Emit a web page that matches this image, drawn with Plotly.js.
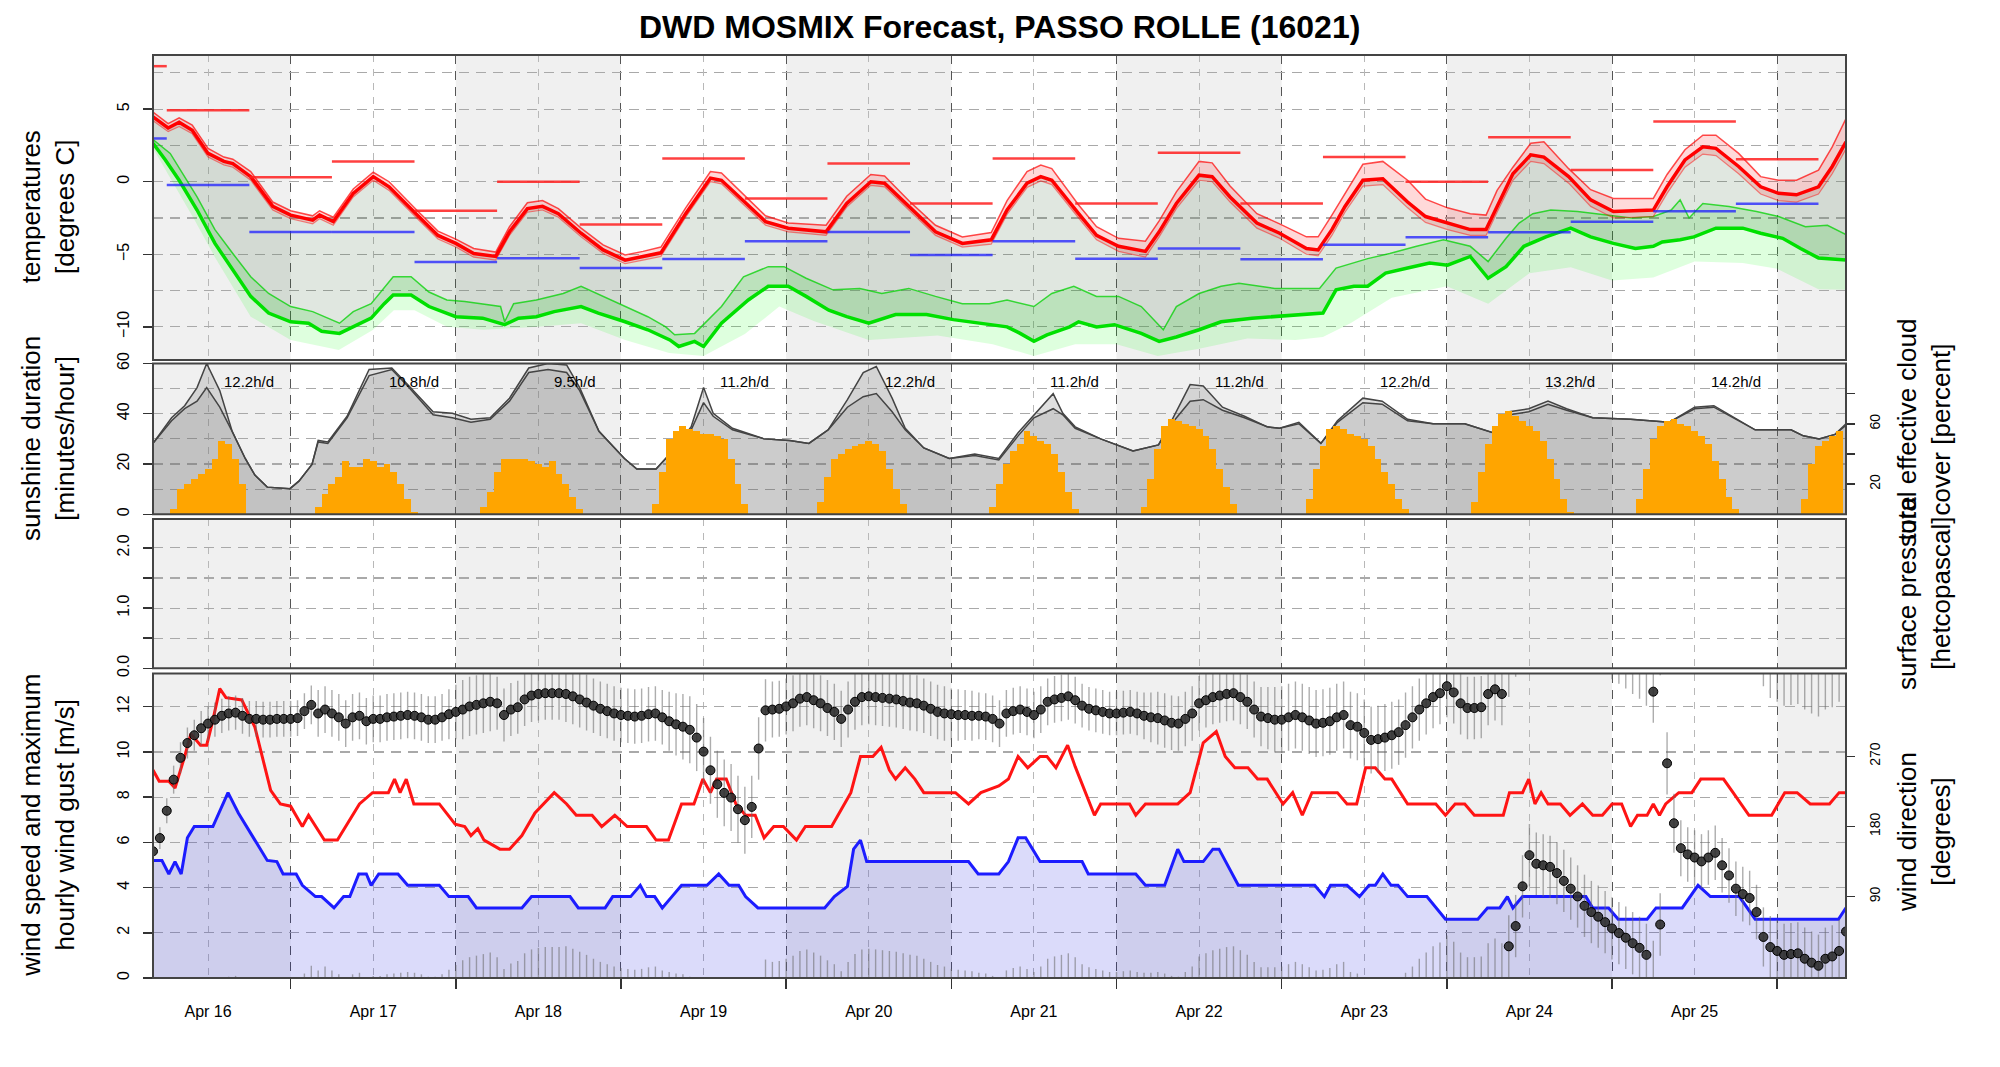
<!DOCTYPE html>
<html lang="en">
<head>
<meta charset="UTF-8">
<title>DWD MOSMIX Forecast, PASSO ROLLE</title>
<script src="https://cdn.plot.ly/plotly-3.0.1.min.js"></script>
<style>
  body { margin: 0; background: #fff; }
  #chart { width: 2000px; height: 1067px; }
</style>
</head>
<body>
<div id="chart"></div>
<script>
// all times are hours counted from Apr 16 00:00
var dayNoon = [12, 36, 60, 84, 108, 132, 156, 180, 204, 228];
var dayLabels = ['Apr 16', 'Apr 17', 'Apr 18', 'Apr 19', 'Apr 20', 'Apr 21', 'Apr 22', 'Apr 23', 'Apr 24', 'Apr 25'];
var sunPerDay = ['12.2h/d', '10.8h/d', '9.5h/d', '11.2h/d', '12.2h/d', '11.2h/d', '11.2h/d', '12.2h/d', '13.2h/d', '14.2h/d'];
var shadeDays = [0, 48, 96, 144, 192, 240];

// temperature (2m) with spread
var tempT = [4, 6.2, 7.8, 9.7, 12, 14.3, 15.6, 18.2, 21.4, 24, 27.2, 28.2, 30.2, 33.1, 36, 38.3, 42.2, 45.4, 48, 50.6,
  53.8, 55.8, 58.4, 60.6, 62.9, 66.2, 69.4, 72.6, 75.2, 77.8, 81.4, 85, 86.6, 89.2, 93, 96.3, 99.6, 101.8, 104.8, 108.3,
  110.3, 113.8, 117.7, 121.6, 125.8, 128.1, 131, 133, 134.6, 138.5, 141.1, 144.3, 148.2, 150.2, 152.7, 156, 157.9, 160.5, 164.4, 167.7,
  171.6, 173.3, 175.3, 177.2, 179.8, 182.7, 186.3, 188.9, 192.1, 195.4, 197.7, 199.3, 201.6, 204.2, 206.1, 209.7, 212.9, 216.2, 222, 224,
  226.6, 229.2, 231.1, 234.4, 237.6, 240.2, 242.8, 246, 248, 250];
var tempMean = [4.47, 3.7, 4.1, 3.55, 1.95, 1.4, 1.25, 0.35, -1.7, -2.3, -2.65, -2.3, -2.75, -0.8, 0.35, -0.35, -2.2, -3.7, -4.25, -4.95,
  -5.15, -3.45, -1.85, -1.7, -2.2, -3.55, -4.7, -5.4, -5.15, -4.9, -2.2, 0.25, 0.1, -1.05, -2.75, -3.2, -3.35, -3.45, -1.5, 0,
  -0.1, -1.7, -3.45, -4.25, -4, -1.95, -0.1, 0.35, 0.1, -2.2, -3.7, -4.45, -4.8, -3.45, -1.5, 0.45, 0.35, -1.05, -2.85, -3.55,
  -4.6, -4.7, -3.3, -1.7, 0.1, 0.2, -1.4, -2.4, -2.85, -3.3, -3.3, -1.7, 0.55, 1.85, 1.7, 0.35, -1.25, -2.05, -1.95, -0.35,
  1.5, 2.4, 2.3, 1.05, -0.35, -0.8, -0.9, -0.35, 1.05, 2.75];
var tempHi = [4.8, 4.0, 4.4, 3.9, 2.3, 1.7, 1.55, 0.7, -1.4, -2.0, -2.35, -2.0, -2.45, -0.5, 0.65, 0.0, -1.9, -3.4, -3.95, -4.6,
  -4.85, -3.1, -1.45, -1.3, -1.85, -3.2, -4.35, -5.05, -4.8, -4.5, -1.8, 0.7, 0.6, -0.6, -2.35, -2.85, -2.95, -3.0, -1.0, 0.5,
  0.4, -1.3, -3.0, -3.8, -3.5, -1.3, 0.7, 1.15, 0.9, -1.6, -3.1, -3.9, -4.1, -2.7, -0.7, 1.4, 1.3, -0.3, -2.2, -2.9,
  -3.8, -3.8, -2.3, -0.8, 1.2, 1.4, 0.1, -1.2, -1.8, -2.2, -2.3, -0.6, 1.0, 2.65, 2.75, 0.9, -0.55, -1.15, -1.15, 0.5,
  2.2, 3.2, 3.2, 1.95, 0.35, 0.1, 0.1, 0.8, 2.4, 4.35];
var tempLo = [4.2, 3.45, 3.8, 3.3, 1.7, 1.15, 1.0, 0.1, -1.95, -2.55, -2.9, -2.55, -3.0, -1.05, 0.1, -0.6, -2.45, -3.95, -4.5, -5.2,
  -5.4, -3.7, -2.1, -1.95, -2.45, -3.8, -4.95, -5.65, -5.4, -5.15, -2.45, 0.0, -0.15, -1.3, -3.0, -3.45, -3.6, -3.7, -1.75, -0.25,
  -0.35, -1.95, -3.7, -4.5, -4.3, -2.25, -0.4, 0.05, -0.2, -2.5, -4.0, -4.8, -5.2, -3.8, -1.85, 0.1, 0.0, -1.4, -3.2, -3.9,
  -5.0, -5.1, -3.7, -2.1, -0.3, -0.2, -1.8, -2.8, -3.3, -3.7, -3.7, -2.1, 0.1, 1.4, 1.25, -0.1, -1.7, -2.5, -2.4, -0.8,
  1.0, 1.9, 1.8, 0.55, -0.85, -1.3, -1.4, -0.85, 0.55, 2.25];

// dew point with spread
var dewT = [4, 5.8, 7.8, 10.4, 13, 15.6, 18.2, 20.8, 24, 26.6, 28.5, 31.1, 33.7, 35.7, 37.6, 38.9, 41.5, 44.1, 48, 51.9,
  55.1, 57.1, 59.7, 62.3, 66.2, 68.7, 72.6, 75.9, 79.1, 80.4, 82.7, 84, 86.6, 90.5, 93.4, 96.3, 98.9, 102.2, 104.8, 108,
  111.9, 116.4, 120.3, 125.5, 128.1, 130, 132, 133.9, 137.2, 138.5, 141.1, 143.7, 147.6, 150.2, 152.7, 156, 159.2, 163.7, 167, 170.3,
  174, 175.9, 178.5, 180.5, 183.1, 186.3, 189.5, 192.1, 195.4, 198, 200.6, 203.2, 206.4, 210, 212.9, 216.2, 219.4, 222, 223.3, 225.9,
  227.9, 231.1, 235, 237.6, 240.8, 243.4, 246, 250];
var dewMean = [2.65, 1.5, 0.1, -1.95, -4.25, -6.1, -7.9, -9.05, -9.65, -9.75, -10.3, -10.45, -9.85, -9.4, -8.4, -7.8, -7.8, -8.6, -9.3, -9.4,
  -9.85, -9.4, -9.3, -8.95, -8.6, -9.05, -9.65, -10.2, -10.9, -11.35, -11.0, -11.35, -9.75, -8.15, -7.2, -7.2, -7.9, -8.85, -9.3, -9.75,
  -9.15, -9.15, -9.5, -9.85, -10.0, -10.45, -11.0, -10.55, -10.0, -9.65, -10.0, -9.85, -10.45, -11.0, -10.7, -10.2, -9.65, -9.4, -9.3, -9.15,
  -9.05, -7.45, -7.2, -7.2, -6.3, -5.95, -5.6, -5.75, -5.15, -6.65, -5.85, -4.45, -3.8, -3.2, -3.8, -4.25, -4.6, -4.45, -4.15, -4.0,
  -3.8, -3.2, -3.2, -3.55, -3.9, -4.6, -5.25, -5.4];
var dewHiT = [4, 6.5, 10.4, 13, 15.6, 18.2, 20.8, 24, 27.2, 31.1, 33.1, 35.7, 38.9, 41.5, 44.1, 46.7, 49.3, 51.9, 54.5, 55.1,
  56.4, 59.7, 63.6, 66.2, 69.4, 72.6, 75.9, 78.5, 79.8, 82.7, 86.6, 89.8, 93.4, 95.7, 98.9, 102.8, 106.7, 109.9, 113.8, 117.7,
  121.6, 125.5, 128.1, 132, 134.6, 137.8, 141.1, 144.3, 147.6, 150.8, 152.7, 156, 159.2, 161.8, 167, 173.5, 175.9, 180.5, 183.7, 187.6,
  191.5, 195.4, 198, 200.6, 202.5, 204.5, 207.1, 211, 214.9, 218.8, 222, 224.6, 225.9, 227.2, 229.2, 233, 237, 240.2, 244.1, 247.3, 250];
var dewHi = [2.9, 1.95, -1.05, -3.3, -4.95, -6.55, -7.7, -8.6, -8.95, -9.75, -8.95, -8.4, -6.55, -6.55, -7.6, -8.15, -8.25, -8.4, -8.6, -9.65,
  -8.4, -8.15, -7.7, -7.2, -7.9, -8.6, -9.3, -10.0, -10.55, -10.45, -8.6, -6.55, -5.85, -5.85, -6.65, -7.45, -7.35, -7.7, -7.35, -7.9,
  -8.4, -8.4, -8.15, -8.6, -7.7, -7.2, -7.9, -7.9, -8.6, -10.2, -8.6, -7.7, -7.2, -7.0, -7.35, -7.35, -5.95, -5.3, -4.95, -4.45,
  -4.0, -4.45, -5.5, -3.9, -2.85, -2.2, -1.95, -2.05, -2.3, -2.5, -2.4, -1.95, -1.25, -2.5, -1.5, -1.7, -2.05, -2.4, -3.1, -3.0, -3.65];
var dewLoT = [4, 10, 13, 18.2, 24, 31, 36, 39, 42, 46.7, 52, 60, 66.2, 72.6, 79, 84, 90, 95, 100, 108,
  118, 126, 132, 138, 144, 150, 156, 163, 170, 174, 178, 184, 192, 198, 204, 210, 216, 222, 228, 235,
  240, 246, 250];
var dewLo = [2.3, -2.6, -5.2, -9.3, -10.9, -11.6, -10.2, -8.85, -8.85, -10.0, -10.2, -10.0, -9.75, -10.9, -11.8, -12.0, -10.5, -8.6, -9.6, -10.9,
  -10.6, -11.2, -12.0, -11.2, -11.2, -12.0, -11.5, -10.8, -10.9, -10.7, -9.75, -8.0, -7.2, -8.4, -6.3, -5.9, -6.8, -6.6, -5.5, -5.6,
  -6.0, -7.4, -7.45];

// 12-hourly extremes
var segStart = [4, 6, 18, 30, 42, 54, 66, 78, 90, 102, 114, 126, 138, 150, 162, 174, 186, 198, 210, 222, 234];
var segEnd = [6, 18, 30, 42, 54, 66, 78, 90, 102, 114, 126, 138, 150, 162, 174, 186, 198, 210, 222, 234, 246];
var tMax = [7.96, 4.93, 0.3, 1.4, -2.0, 0.0, -2.95, 1.6, -1.15, 1.25, -1.5, 1.6, -1.5, 2.0, -1.5, 1.7, 0.0, 3.07, 0.8, 4.15, 1.55];
var tMin = [2.98, -0.23, -3.46, -3.46, -5.53, -5.28, -5.94, -5.32, -4.1, -3.46, -5.05, -4.1, -5.3, -4.6, -5.35, -4.35, -3.83, -3.49, -2.75, -2.04, -1.51];

// sunshine minutes per hour
var sunH = [7, 8, 9, 10, 11, 12, 13, 14, 15, 16, 17,
  28, 29, 30, 31, 32, 33, 34, 35, 36, 37, 38, 39, 40, 41, 42,
  52, 53, 54, 55, 56, 57, 58, 59, 60, 61, 62, 63, 64, 65, 66,
  77, 78, 79, 80, 81, 82, 83, 84, 85, 86, 87, 88, 89, 90,
  101, 102, 103, 104, 105, 106, 107, 108, 109, 110, 111, 112, 113,
  126, 127, 128, 129, 130, 131, 132, 133, 134, 135, 136, 137, 138,
  148, 149, 150, 151, 152, 153, 154, 155, 156, 157, 158, 159, 160, 161,
  172, 173, 174, 175, 176, 177, 178, 179, 180, 181, 182, 183, 184, 185, 186,
  196, 197, 198, 199, 200, 201, 202, 203, 204, 205, 206, 207, 208, 209, 210,
  220, 221, 222, 223, 224, 225, 226, 227, 228, 229, 230, 231, 232, 233, 234,
  244, 245, 246, 247, 248, 249];
var sunV = [2, 10, 12, 14, 16, 18, 22, 29, 28, 22, 12,
  3, 8, 12, 15, 21, 19, 19, 22, 21, 19, 20, 17, 12, 6, 1,
  3, 9, 17, 22, 22, 22, 22, 21, 20, 19, 21, 16, 12, 7, 2,
  4, 17, 30, 33, 35, 34, 33, 32, 32, 31, 30, 22, 12, 4,
  5, 15, 22, 24, 26, 27, 28, 29, 28, 25, 18, 10, 4,
  3, 12, 20, 25, 28, 33, 31, 29, 28, 24, 17, 9, 2,
  3, 14, 26, 35, 38, 37, 36, 35, 34, 31, 26, 18, 11, 4,
  6, 18, 27, 34, 35, 34, 32, 31, 30, 27, 22, 17, 12, 6, 2,
  5, 17, 28, 35, 40, 41, 39, 37, 35, 33, 29, 22, 14, 6, 1,
  6, 18, 30, 35, 37, 38, 36, 35, 33, 31, 28, 21, 14, 7, 2,
  6, 20, 27, 29, 31, 33];

// total effective cloud cover (percent)
var cloudT = [4, 6.7, 8.6, 10.4, 11.8, 13.7, 15.5, 17.4, 18.8, 20.6, 23.9, 25.2, 27.1, 28, 29.4, 32.2, 35.4, 38.7, 41, 44.7,
  47.5, 50.2, 53, 55.8, 58.6, 61.4, 64.1, 66, 68.8, 72.5, 74.3, 77.1, 79.9, 82.2, 84, 85.4, 88.2, 92.8, 96.5, 99.3,
  102.1, 104.9, 107.2, 109.1, 111.4, 113.3, 116, 119.7, 123.4, 126.9, 129.7, 132, 134.8, 136.2, 138, 141.7, 146.4, 150.1, 152, 154.7,
  156.6, 159.4, 162.6, 165.9, 167.7, 170.5, 173.7, 176.1, 179.8, 182.6, 186.3, 190, 194.6, 198.8, 201.1, 203.9, 206.7, 209.4, 213.2, 218.7,
  224.3, 228, 230.8, 236.8, 242, 243.8, 246.1, 248.4, 250];
var cloudHi = [47, 64, 72, 84, 100, 82, 55, 37, 26, 18, 17, 22, 33, 49, 48, 65, 96, 97, 86, 68,
  67, 63, 64, 77, 97, 100, 99, 84, 55, 37, 30, 30, 44, 58, 84, 67, 57, 50, 49, 47,
  56, 76, 94, 98, 77, 57, 44, 37, 40, 37, 54, 66, 80, 67, 58, 50, 42, 46, 62, 86,
  85, 71, 65, 58, 57, 61, 47, 62, 77, 75, 63, 60, 60, 54, 68, 70, 75, 70, 64, 63,
  61, 71, 72, 56, 56, 52, 50, 53, 60];
var cloudLo = [47, 62, 70, 75, 84, 71, 55, 37, 26, 18, 17, 22, 33, 48, 47, 64, 92, 96, 85, 66,
  64, 61, 63, 75, 94, 96, 94, 82, 55, 37, 30, 30, 44, 56, 74, 65, 56, 50, 49, 47,
  56, 71, 78, 80, 68, 56, 44, 37, 39, 36, 52, 64, 70, 66, 57, 50, 42, 46, 60, 75,
  76, 69, 64, 58, 57, 60, 47, 61, 74, 73, 62, 60, 60, 54, 66, 68, 73, 69, 64, 63,
  61, 70, 71, 56, 56, 52, 50, 53, 59];

// wind speed and gusts (m/s)
var windT = [4, 5.3, 6.3, 7.2, 8.1, 9, 10, 12.7, 14.9, 16.4, 18.8, 20.6, 22, 22.9, 24.8, 25.7, 27.6, 28.5, 30.3, 31.7,
  32.6, 33.9, 35, 35.7, 36.8, 39.6, 41, 45.6, 47, 49.8, 51, 57.6, 59, 64.6, 65.8, 69.7, 70.8, 73.4, 74.8, 75.7,
  76.9, 78, 79.4, 80.8, 84.5, 86.2, 87.7, 89.1, 90.1, 91.9, 101.6, 103, 104.9, 105.8, 106.8, 107.7, 122.5, 123.9, 126.9, 128.3,
  129.7, 130.8, 132.9, 139, 139.9, 146.8, 148.2, 151, 152.9, 153.8, 156.6, 158, 158.9, 161.7, 172.8, 174.2, 175.1, 177.5, 179.3, 180.7,
  181.6, 182.7, 183.9, 184.9, 186.3, 189.1, 191.8, 196.5, 197.9, 199.7, 200.8, 201.6, 203, 212.2, 213.2, 215.5, 216.9, 221.1, 222.4, 226.2,
  228.5, 230.3, 234.5, 236.8, 248.9, 250];
var windV = [5.2, 5.2, 4.6, 5.15, 4.6, 6.2, 6.7, 6.7, 8.2, 7.3, 6.1, 5.2, 5.15, 4.6, 4.6, 4.1, 3.6, 3.6, 3.1, 3.6,
  3.6, 4.6, 4.6, 4.1, 4.6, 4.6, 4.1, 4.1, 3.6, 3.6, 3.1, 3.1, 3.6, 3.6, 3.1, 3.1, 3.6, 3.6, 4.1, 3.6,
  3.6, 3.1, 3.6, 4.1, 4.1, 4.6, 4.1, 4.1, 3.6, 3.1, 3.1, 3.6, 4.05, 5.7, 6.1, 5.15, 5.15, 4.6, 4.6, 5.15,
  6.2, 6.2, 5.15, 5.15, 4.6, 4.6, 4.1, 4.1, 5.7, 5.15, 5.15, 5.7, 5.7, 4.1, 4.1, 3.6, 4.1, 4.1, 3.6, 4.1,
  4.1, 4.6, 4.1, 4.1, 3.6, 3.6, 2.6, 2.6, 3.1, 3.1, 3.6, 3.1, 3.6, 3.6, 3.1, 3.1, 2.6, 2.6, 3.1, 3.1,
  4.1, 3.6, 3.6, 2.6, 2.6, 3.1];
var gustT = [4, 4.9, 6.3, 7.2, 8.6, 9.5, 10.9, 11.8, 12.7, 13.7, 14.6, 16.9, 18.8, 21.1, 22.5, 24, 25.7, 26.6, 28.9, 30.8,
  34, 35.9, 38.2, 39.1, 39.9, 40.8, 41.9, 45.6, 47.9, 49.3, 50.2, 51.2, 52.1, 54.4, 55.8, 57.6, 59.5, 62.3, 64.1, 65.5,
  67.8, 69.2, 71.1, 72.9, 75.7, 77.1, 78.9, 80.8, 82.6, 83.9, 85, 85.9, 87.3, 88.7, 90.1, 91.5, 92.8, 94.2, 95.6, 97.5,
  98.8, 102.6, 105.4, 106.8, 108.6, 109.8, 111, 111.9, 113.3, 114.7, 116, 120.6, 122.5, 124.3, 126.9, 128.3, 129.7, 131.1, 132.9, 133.9,
  135.2, 136.9, 138, 140.8, 141.7, 145.9, 146.8, 148.2, 152.9, 154.7, 156.6, 158.5, 159.8, 161.2, 163.1, 164.5, 165.9, 168.2, 169.6, 171,
  172.4, 176.1, 177.5, 178.9, 180.2, 181.6, 183, 184, 186.3, 190.4, 191.8, 193.2, 194.6, 196, 200.2, 201.1, 203, 203.9, 204.8, 205.7,
  206.7, 208.5, 209.9, 211.7, 213.2, 214.6, 216, 217.4, 218.7, 219.7, 221.1, 222, 222.9, 223.8, 225.7, 227.6, 228.9, 232.2, 233.6, 235.9,
  239.2, 241.1, 242.9, 244.8, 247.6, 249, 250];
var gustV = [9.2, 8.7, 8.7, 8.4, 9.8, 10.8, 10.3, 10.3, 11.4, 12.8, 12.4, 12.3, 11.1, 8.3, 7.7, 7.6, 6.7, 7.2, 6.1, 6.1,
  7.7, 8.2, 8.2, 8.8, 8.2, 8.8, 7.7, 7.7, 6.8, 6.7, 6.3, 6.6, 6.1, 5.7, 5.7, 6.3, 7.3, 8.2, 7.7, 7.2,
  7.2, 6.7, 7.2, 6.7, 6.7, 6.1, 6.1, 7.7, 7.7, 8.8, 8.2, 8.8, 8.8, 7.7, 7.2, 7.2, 6.2, 6.7, 6.7, 6.1,
  6.7, 6.7, 8.2, 9.8, 9.8, 10.2, 9.2, 8.8, 9.3, 8.8, 8.2, 8.2, 7.7, 8.2, 8.5, 8.8, 9.8, 9.3, 9.8, 9.8,
  9.3, 10.3, 9.35, 7.2, 7.7, 7.7, 7.2, 7.7, 7.7, 8.2, 10.4, 10.9, 9.8, 9.3, 9.3, 8.8, 8.8, 7.7, 8.2, 7.2,
  8.2, 8.2, 7.7, 7.7, 9.3, 9.3, 8.8, 8.8, 7.7, 7.7, 7.2, 7.7, 7.7, 7.2, 7.2, 8.2, 8.2, 8.8, 7.7, 8.2,
  7.7, 7.7, 7.2, 7.7, 7.2, 7.2, 7.7, 7.7, 6.7, 7.2, 7.2, 7.7, 7.2, 7.7, 8.2, 8.2, 8.8, 8.8, 8.2, 7.2,
  7.2, 8.2, 8.2, 7.7, 7.7, 8.2, 8.2];

// hourly wind direction (degrees) and its spread, starting at hour 4
var dirStart = 4;
var windDir = [148, 165, 200, 240, 268, 287, 297, 306, 312, 317,
  322, 325, 326, 322, 318, 318, 317, 317, 318, 318,
  318, 319, 328, 336, 325, 330, 325, 320, 312, 320,
  322, 315, 318, 318, 320, 321, 322, 323, 322, 320,
  317, 317, 320, 324, 327, 330, 334, 336, 338, 340,
  338, 323, 330, 333, 343, 348, 350, 351, 351, 351,
  350, 347, 343, 339, 335, 331, 328, 325, 323, 322,
  321, 322, 324, 325, 320, 315, 311, 308, 304, 294,
  276, 252, 234, 223, 217, 202, 188, 205, 280, 329,
  330, 331, 334, 338, 344, 346, 342, 338, 332, 327,
  318, 330, 340, 346, 347, 346, 345, 344, 343, 341,
  339, 338, 335, 331, 327, 325, 324, 323, 323, 322,
  322, 321, 318, 312, 325, 328, 330, 327, 323, 330,
  340, 343, 345, 347, 342, 335, 331, 329, 327, 325,
  325, 326, 327, 325, 322, 320, 319, 316, 313, 312,
  318, 325, 338, 342, 346, 348, 350, 351, 346, 340,
  330, 321, 319, 317, 317, 320, 323, 320, 316, 312,
  313, 315, 320, 323, 310, 308, 300, 291, 292, 294,
  297, 301, 310, 320, 330, 338, 346, 351, 360, 352,
  338, 332, 332, 333, 350, 356, 350, 26, 52, 103,
  143, 132, 130, 128, 120, 110, 100, 90, 78, 70,
  64, 57, 49, 43, 37, 30, 24, 15, 353, 54,
  261, 184, 152, 144, 140, 135, 140, 146, 130, 117,
  100, 93, 88, 70, 38, 25, 20, 15, 16, 17,
  10, 5, 1, 10, 13, 20, 45];
var dirSpread = [12, 14, 16, 18, 20, 20, 20, 22, 22, 22,
  22, 22, 22, 23, 23, 23, 23, 23, 23, 23,
  23, 23, 23, 25, 30, 30, 30, 30, 30, 30,
  30, 30, 30, 30, 30, 30, 30, 30, 30, 30,
  30, 30, 30, 32, 35, 38, 38, 38, 38, 38,
  34, 34, 34, 34, 34, 34, 34, 34, 34, 34,
  36, 36, 36, 36, 35, 35, 35, 35, 35, 35,
  35, 35, 35, 35, 35, 38, 40, 42, 43, 43,
  43, 43, 43, 43, 43, 43, 43, 40, 40, 40,
  36, 36, 36, 36, 36, 36, 36, 36, 36, 36,
  36, 36, 36, 36, 36, 36, 36, 36, 36, 36,
  36, 36, 35, 35, 35, 35, 33, 33, 32, 32,
  30, 30, 30, 30, 30, 30, 30, 30, 30, 30,
  30, 30, 30, 30, 30, 28, 28, 28, 28, 28,
  28, 28, 28, 28, 30, 32, 34, 35, 35, 35,
  35, 35, 35, 35, 35, 35, 35, 35, 35, 35,
  36, 38, 40, 42, 43, 43, 43, 43, 43, 43,
  43, 43, 43, 43, 43, 43, 43, 43, 43, 43,
  43, 42, 42, 40, 40, 40, 40, 40, 40, 40,
  40, 40, 40, 40, 40, 40, 40, 40, 40, 40,
  40, 40, 40, 40, 40, 40, 40, 40, 40, 40,
  40, 40, 40, 40, 40, 40, 40, 40, 40, 40,
  40, 38, 36, 35, 35, 35, 35, 35, 35, 35,
  35, 35, 35, 35, 38, 40, 40, 40, 40, 40,
  40, 40, 40, 40, 40, 40, 40];

var dirH = windDir.map(function (d, i) { return dirStart + i; });

function segments(vals) {
    var x = [], y = [];
    for (var i = 0; i < segStart.length; i++) {
        x.push(segStart[i], segEnd[i], null);
        y.push(vals[i], vals[i], null);
    }
    return {x: x, y: y};
}
var maxSeg = segments(tMax);
var minSeg = segments(tMin);

var FONT = 'Liberation Sans, Arial, sans-serif';
var GRID = '#a9a9a9';
var SPREAD_BAR = {type: 'data', array: dirSpread, color: 'rgba(105,105,105,0.55)', thickness: 1.4, width: 0};

var data = [
    // temperature panel
    {x: dewT, y: dewMean, mode: 'lines', line: {width: 0}, yaxis: 'y', hoverinfo: 'skip'},
    {x: tempT, y: tempMean, mode: 'lines', line: {width: 0}, fill: 'tonexty', fillcolor: 'rgba(70,110,70,0.17)', yaxis: 'y', hoverinfo: 'skip'},
    {x: dewLoT, y: dewLo, mode: 'lines', line: {width: 0}, yaxis: 'y', hoverinfo: 'skip'},
    {x: dewT, y: dewMean, mode: 'lines', line: {width: 0}, fill: 'tonexty', fillcolor: 'rgba(0,255,0,0.13)', yaxis: 'y', hoverinfo: 'skip'},
    {x: dewHiT, y: dewHi, mode: 'lines', line: {width: 1.5, color: 'rgba(0,210,0,0.75)'}, fill: 'tonexty', fillcolor: 'rgba(0,200,0,0.16)', yaxis: 'y'},
    {x: tempT, y: tempLo, mode: 'lines', line: {width: 1.2, color: 'rgba(255,0,0,0.45)'}, yaxis: 'y'},
    {x: tempT, y: tempHi, mode: 'lines', line: {width: 1.5, color: 'rgba(255,0,0,0.7)'}, fill: 'tonexty', fillcolor: 'rgba(255,0,0,0.15)', yaxis: 'y'},
    {x: dewT, y: dewMean, mode: 'lines', line: {width: 3.5, color: '#00e000'}, yaxis: 'y'},
    {x: tempT, y: tempMean, mode: 'lines', line: {width: 3.5, color: '#ff0000'}, yaxis: 'y'},
    {x: maxSeg.x, y: maxSeg.y, mode: 'lines', line: {width: 2.5, color: 'rgba(255,30,30,0.85)'}, connectgaps: false, yaxis: 'y'},
    {x: minSeg.x, y: minSeg.y, mode: 'lines', line: {width: 2.5, color: 'rgba(30,30,255,0.75)'}, connectgaps: false, yaxis: 'y'},

    // cloud cover and sunshine
    {x: cloudT, y: cloudLo, mode: 'lines', line: {width: 1.5, color: '#444'}, fill: 'tozeroy', fillcolor: 'rgba(100,100,100,0.33)', yaxis: 'y2'},
    {x: cloudT, y: cloudHi, mode: 'lines', line: {width: 1.5, color: '#444'}, fill: 'tonexty', fillcolor: 'rgba(100,100,100,0.2)', yaxis: 'y2'},
    {type: 'bar', x: sunH, y: sunV, width: 1, marker: {color: '#ffa500', line: {width: 0}}, yaxis: 'y5'},

    // surface pressure (no data)
    {x: [null], y: [null], mode: 'lines', yaxis: 'y3', hoverinfo: 'skip'},

    // wind
    {x: windT, y: windV, mode: 'lines', line: {width: 3, color: '#1c1cff'}, fill: 'tozeroy', fillcolor: 'rgba(0,0,218,0.14)', yaxis: 'y4'},
    {x: gustT, y: gustV, mode: 'lines', line: {width: 3, color: '#ff1414'}, yaxis: 'y4'},
    {x: dirH, y: windDir.map(function (d) { return d + 360; }), mode: 'markers', marker: {size: 1, opacity: 0},
        error_y: SPREAD_BAR, yaxis: 'y6'},
    {x: dirH, y: windDir.map(function (d) { return d - 360; }), mode: 'markers', marker: {size: 1, opacity: 0},
        error_y: SPREAD_BAR, yaxis: 'y6'},
    {x: dirH, y: windDir, mode: 'markers', marker: {size: 9, color: 'rgba(45,45,45,0.9)', line: {width: 1, color: '#000'}},
        error_y: SPREAD_BAR, yaxis: 'y6'}
];

function yAxis(extra) {
    var base = {
        anchor: 'x', zeroline: false, showline: false,
        ticks: 'outside', ticklen: 9, tickwidth: 1.5, tickcolor: '#333',
        tickangle: -90, ticklabelstandoff: 8,
        tickfont: {size: 16, color: '#000'},
        showgrid: true, gridcolor: GRID, griddash: '10px,7px', gridwidth: 1.2
    };
    for (var k in extra) base[k] = extra[k];
    return base;
}

var shapes = [];
var panels = ['y', 'y2', 'y3', 'y4'];
panels.forEach(function (p) {
    shadeDays.forEach(function (d) {
        shapes.push({type: 'rect', layer: 'below', xref: 'x', yref: p + ' domain',
            x0: Math.max(d, 4), x1: Math.min(d + 24, 250), y0: 0, y1: 1,
            fillcolor: '#f0f0f0', line: {width: 0}});
    });
    shapes.push({type: 'rect', layer: 'above', xref: 'x domain', yref: p + ' domain',
        x0: 0, x1: 1, y0: 0, y1: 1, line: {color: '#444', width: 2}, fillcolor: 'rgba(0,0,0,0)'});
});

var annotations = [
    {text: '<b>DWD MOSMIX Forecast, PASSO ROLLE (16021)</b>', xref: 'paper', yref: 'paper', x: 0.5, y: 1.0303,
        showarrow: false, font: {size: 32}, xanchor: 'center', yanchor: 'middle'},
    {text: 'temperatures<br>[degrees C]', xref: 'paper', yref: 'paper', x: -0.062, y: 0.835, textangle: -90},
    {text: 'sunshine duration<br>[minutes/hour]', xref: 'paper', yref: 'paper', x: -0.062, y: 0.584, textangle: -90},
    {text: 'wind speed and maximum<br>hourly wind gust [m/s]', xref: 'paper', yref: 'paper', x: -0.062, y: 0.165, textangle: -90},
    {text: 'total effective cloud<br>cover [percent]', xref: 'paper', yref: 'paper', x: 1.046, y: 0.594, textangle: -90},
    {text: 'surface pressure<br>[hetcopascal]', xref: 'paper', yref: 'paper', x: 1.046, y: 0.417, textangle: -90},
    {text: 'wind direction<br>[degrees]', xref: 'paper', yref: 'paper', x: 1.046, y: 0.158, textangle: -90}
];
annotations.forEach(function (a, i) {
    if (i > 0) { a.showarrow = false; a.font = {size: 26}; a.xanchor = 'center'; a.yanchor = 'middle'; }
});
sunPerDay.forEach(function (t, i) {
    annotations.push({text: t, xref: 'x', yref: 'y5', x: dayNoon[i], y: 53, xanchor: 'left', yanchor: 'middle',
        xshift: 14, showarrow: false, font: {size: 15}});
});

var layout = {
    width: 2000, height: 1067,
    margin: {l: 153, r: 154, t: 55, b: 89},
    paper_bgcolor: '#fff', plot_bgcolor: '#fff',
    font: {family: FONT, color: '#000'},
    showlegend: false, bargap: 0,
    xaxis: {
        range: [4, 250], anchor: 'y4', zeroline: false, showline: false,
        tickmode: 'array', tickvals: dayNoon, ticktext: dayLabels,
        ticks: '', ticklabelstandoff: 22, tickfont: {size: 16},
        showgrid: true, gridcolor: '#b8b8b8', griddash: '7px,7px', gridwidth: 1,
        minor: {tickmode: 'linear', tick0: 0, dtick: 24, ticks: 'outside', ticklen: 10, tickwidth: 1.5, tickcolor: '#333',
            showgrid: true, gridcolor: '#555', griddash: '9px,7px', gridwidth: 1}
    },
    yaxis: yAxis({domain: [0.6696, 1], range: [-12.28, 8.73], tick0: 0, dtick: 5,
        minor: {dtick: 2.5, tick0: 0, showgrid: true, gridcolor: GRID, griddash: '10px,7px', gridwidth: 1.2}}),
    yaxis2: yAxis({domain: [0.5024, 0.6658], range: [0, 100], side: 'right', showgrid: false,
        tickmode: 'array', tickvals: [20, 40, 60, 80], ticktext: ['20', '', '60', ''], tickfont: {size: 14}, ticklen: 8}),
    yaxis5: yAxis({overlaying: 'y2', side: 'left', range: [0, 60], tick0: 0, dtick: 20,
        minor: {dtick: 10, tick0: 0, showgrid: true, gridcolor: GRID, griddash: '10px,7px', gridwidth: 1.2}}),
    yaxis3: yAxis({domain: [0.3355, 0.4973], range: [0, 2.48],
        tickmode: 'array', tickvals: [0, 0.5, 1, 1.5, 2], ticktext: ['0.0', '', '1.0', '', '2.0']}),
    yaxis4: yAxis({domain: [0, 0.3299], range: [0, 13.47], tick0: 0, dtick: 2}),
    yaxis6: yAxis({overlaying: 'y4', side: 'right', range: [-14.7, 376.3], showgrid: false,
        tickmode: 'array', tickvals: [90, 180, 270], tickfont: {size: 14}, ticklen: 8}),
    shapes: shapes,
    annotations: annotations
};

Plotly.newPlot('chart', data, layout, {displayModeBar: false, staticPlot: true});
</script>
</body>
</html>
